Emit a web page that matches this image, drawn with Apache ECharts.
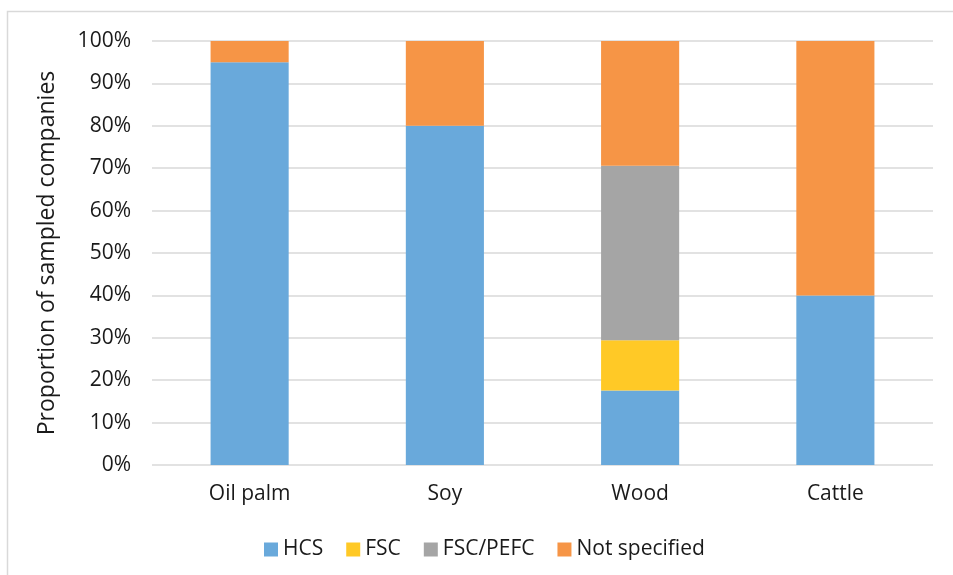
<!DOCTYPE html>
<html>
<head>
<meta charset="utf-8">
<script src="https://cdn.jsdelivr.net/npm/echarts@6/dist/echarts.min.js"></script>
<style>
  html, body { margin: 0; padding: 0; background: #fff; }
  #main { width: 953px; height: 575px; }
</style>
</head>
<body>
<div id="main"></div>
<script>
// 数据
var categories = ['Oil palm', 'Soy', 'Wood', 'Cattle'];
var hcs = [95, 80, 17.6, 40];
var fsc = [0, 0, 11.8, 0];
var fscPefc = [0, 0, 41.2, 0];
var notSpecified = [5, 20, 29.4, 60];
var yTicks = [0, 100, 10]; // min, max, interval

var font = '"Open Sans", "Noto Sans", sans-serif';
var myChart = echarts.init(document.getElementById('main'));

function seg(name, data, color) {
    return {
        name: name,
        type: 'bar',
        stack: 'total',
        barWidth: '40%',
        data: data,
        itemStyle: { color: color },
        emphasis: { disabled: true }
    };
}

var option = {
    animation: false,
    textStyle: { fontFamily: font },
    graphic: [{
        type: 'rect',
        shape: { x: 7.5, y: 11.5, width: 1000, height: 600 },
        style: { fill: 'none', stroke: '#D9D9D9', lineWidth: 1.5 },
        silent: true
    }],
    grid: { left: 152, right: 20, top: 41, bottom: 110 },
    legend: {
        left: 264,
        top: 539,
        padding: 0,
        itemWidth: 14,
        itemHeight: 14,
        itemGap: 23,
        icon: 'rect',
        textStyle: { fontSize: 21, color: '#1a1a1a', fontFamily: font },
        data: ['HCS', 'FSC', 'FSC/PEFC', 'Not specified']
    },
    xAxis: {
        type: 'category',
        data: categories,
        axisLine: { show: false },
        axisTick: { show: false },
        axisLabel: { fontSize: 21, color: '#1a1a1a', margin: 19 }
    },
    yAxis: {
        type: 'value',
        min: yTicks[0],
        max: yTicks[1],
        interval: yTicks[2],
        name: 'Proportion of sampled companies',
        nameLocation: 'middle',
        nameGap: 93,
        nameTextStyle: { fontSize: 23, color: '#1a1a1a' },
        axisLabel: { formatter: '{value}%', fontSize: 21, color: '#1a1a1a', margin: 21 },
        splitLine: { lineStyle: { color: '#D9D9D9', width: 1.5 } }
    },
    series: [
        seg('HCS', hcs, '#69A9DB'),
        seg('FSC', fsc, '#FFC926'),
        seg('FSC/PEFC', fscPefc, '#A5A5A5'),
        seg('Not specified', notSpecified, '#F69546')
    ]
};

myChart.setOption(option);
</script>
</body>
</html>
